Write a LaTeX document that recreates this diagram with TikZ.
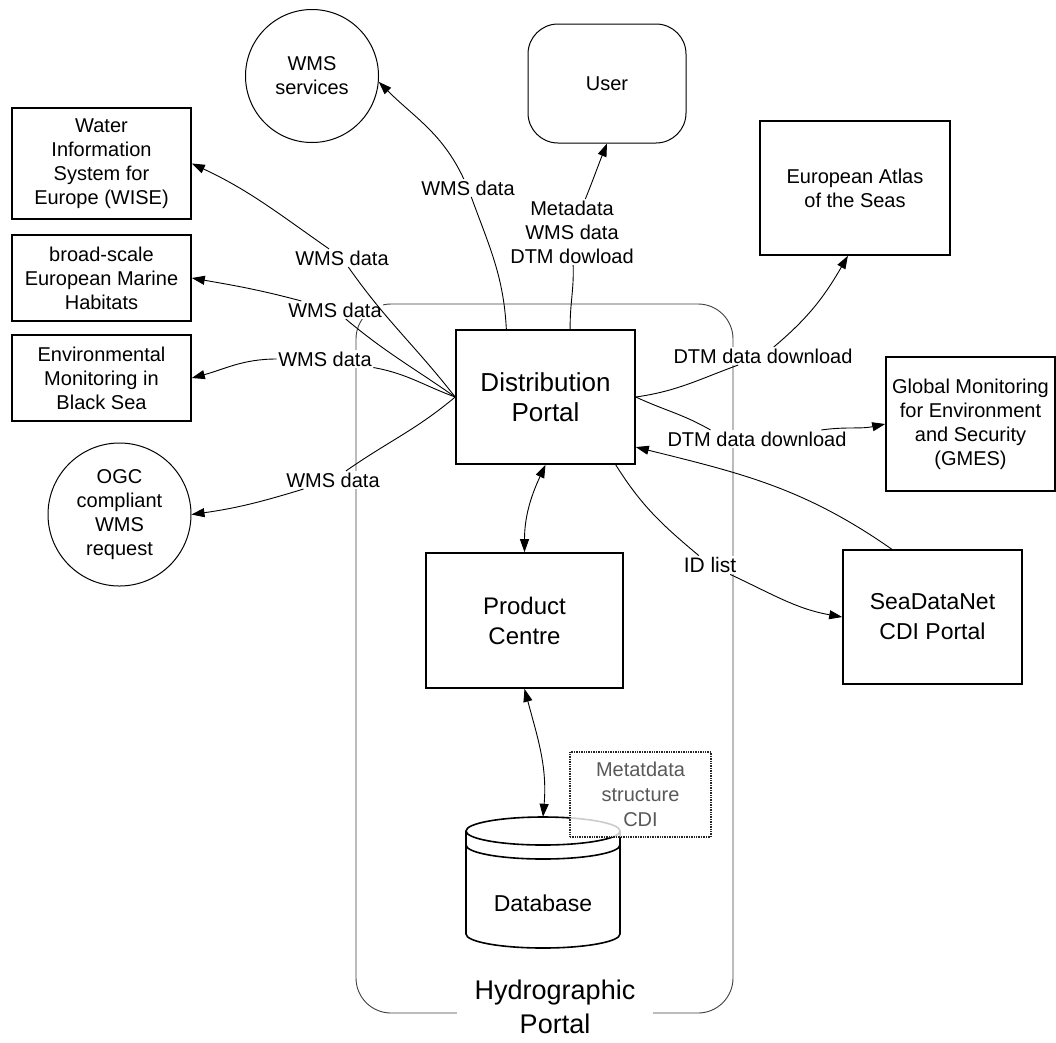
\documentclass[tikz,border=0pt]{standalone}
\usepackage{fontspec}
\setmainfont{Liberation Sans}
\usepackage{tikz}
\usetikzlibrary{arrows.meta}
\tikzset{
 box/.style={draw, line width=1.6pt, align=center, inner sep=0pt},
 circ/.style={draw, circle, line width=1pt, align=center, inner sep=0pt},
 lbl/.style={fill=white, inner sep=1.5pt, align=center},
 conn/.style={line width=0.9pt, -{Triangle[length=13pt,width=9pt]}},
 dbl/.style={line width=0.9pt, {Triangle[length=13pt,width=9pt]}-{Triangle[length=13pt,width=9pt]}},
}
\newcommand{\fsz}[2]{\fontsize{#1}{#2}\selectfont}

\begin{document}
\begin{tikzpicture}[x=1pt,y=1pt,font=\fsz{20}{24}]
\useasboundingbox (0,0) rectangle (1056,-1042);
% hydrographic portal frame
\draw[black!75, line width=0.9pt, rounded corners=35pt] (356,-304) rectangle (733,-1013);
\node[fill=white, inner xsep=18pt, inner ysep=0pt, align=center, font=\fsz{27}{34}] (hp) at (555,-1007) {Hydrographic\\Portal};

% outside
\node[circ, minimum size=133pt] (wms) at (312,-76) {WMS\\services};
\node[draw, line width=1pt, rounded corners=30pt, minimum width=158pt, minimum height=119pt] (user) at (607,-83.5) {User};
\node[box, minimum width=190pt, minimum height=134pt] (atlas) at (855,-188) {European Atlas\\of the Seas};
\foreach \nm/\y/\hh/\txt in {wise/163.5/111/{Water\\Information\\System for\\Europe (WISE)},
    broad/278/86/{broad-scale\\European Marine\\Habitats},
    env/378/86/{Environmental\\Monitoring in\\Black Sea}}
  \node[box, minimum width=179pt, minimum height=\hh] (\nm) at (101.5,-\y) {\txt};
\node[circ, minimum size=143pt] (ogc) at (119.5,-514.5) {OGC\\compliant\\WMS\\request};
\node[box, minimum width=169pt, minimum height=134pt] (gmes) at (970.5,-424) {Global Monitoring\\for Environment\\and Security\\(GMES)};
\node[box, minimum width=179pt, minimum height=134pt, font=\fsz{23}{30}] (sdn) at (932.5,-617) {SeaDataNet\\CDI Portal};

% inside the portal
\node[box, minimum width=179pt, minimum height=134pt, font=\fsz{26}{30}] (dp) at (545.5,-397) {Distribution\\Portal};
\node[box, minimum width=197pt, minimum height=135pt, font=\fsz{24}{30}] (pc) at (524.5,-620.5) {Product\\Centre};

% database drum
\draw[line width=1.6pt, fill=white] (466,-831) -- (466,-934) arc[start angle=180, end angle=360, x radius=77, y radius=14] -- (620,-831);
\draw[line width=1.6pt] (543,-831) ellipse[x radius=77, y radius=14];
\draw[line width=1.6pt] (466,-845) arc[start angle=180, end angle=360, x radius=77, y radius=14];
\node[minimum width=154pt, minimum height=131pt, inner sep=0pt] (db) at (543,-882.5) {};
\node[font=\fsz{23}{28}] (dbtxt) at (543,-903) {Database};
\node[draw=black!85, line width=2pt, dash pattern=on 1pt off 0.7pt, fill=white, fill opacity=0.8, text opacity=1,
      text=black!65, minimum width=141pt, minimum height=85pt, align=center, font=\fsz{20}{25}] (meta) at (640.5,-794.5) {Metatdata\\structure\\CDI};

% labels
\node[lbl] (lwms) at (468,-188) {WMS data};
\node[lbl] (luser) at (572,-232) {Metadata\\WMS data\\DTM dowload};
\node[lbl] (lwise) at (342,-258) {WMS data};
\node[lbl] (lbroad) at (335,-310) {WMS data};
\node[lbl] (lenv) at (325,-359) {WMS data};
\node[lbl] (logc) at (333,-480) {WMS data};
\node[lbl] (latlas) at (763,-356) {DTM data download};
\node[lbl] (lgmes) at (757,-439) {DTM data download};
\node[lbl, font=\fsz{21}{24}] (lid) at (710,-565) {ID list};

% connectors
\draw[conn] (dp.120) to[out=93,in=-70] (lwms) to[out=115,in=-45] (wms.-5);
\draw[conn] (dp.70) to[out=91,in=-88] (luser) to[out=68,in=-112] (user.south);
\draw[conn] (dp.west) to[out=128,in=-55] (lwise) to[out=145,in=-25] (wise.east);
\draw[conn] (dp.west) to[out=145,in=-40] (lbroad) to[out=165,in=-10] (broad.east);
\draw[conn] (dp.west) to[out=160,in=-10] (lenv) to[out=180,in=15] (env.east);
\draw[conn] (dp.west) to[out=-140,in=35] (logc) to[out=197,in=8] (ogc.east);
\draw[conn] (dp.east) to[out=8,in=-160] (latlas) to[out=40,in=-120] (atlas.-96);
\draw[conn] (dp.east) to[out=-25,in=150] (lgmes.169) (lgmes) to[out=8,in=192] (gmes.west);
\draw[conn] (sdn.121) to[out=145,in=-14] (dp.-29);
\draw[conn] (dp.-44) to[out=-58,in=140] (lid) to[out=-25,in=170] (sdn.west);
\draw[dbl] (dp.south) to[out=-115,in=90] (pc.north);
\draw[dbl] (pc.south) to[out=-75,in=85] (db.north);
\end{tikzpicture}
\end{document}
